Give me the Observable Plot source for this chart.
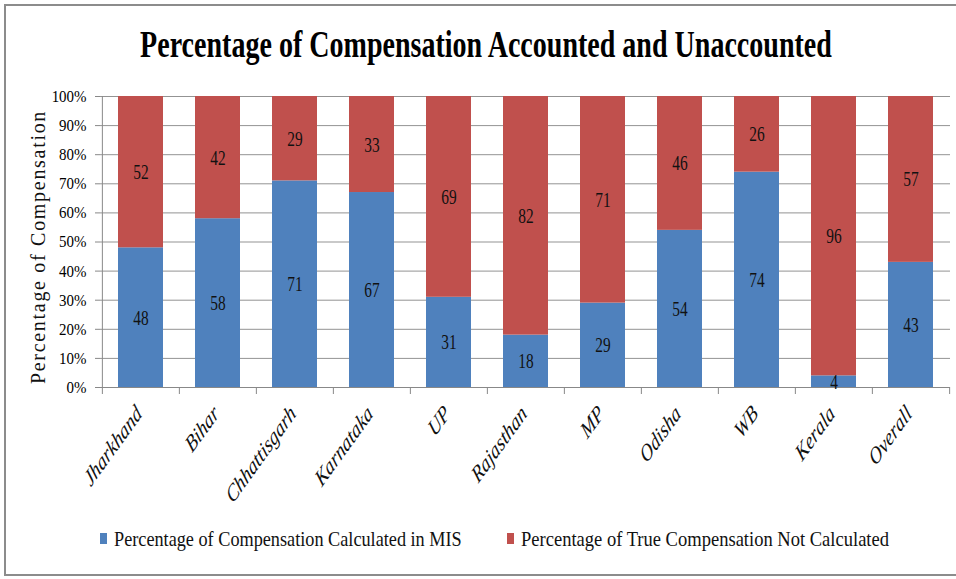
<!DOCTYPE html>
<html><head><meta charset="utf-8">
<script src="https://cdn.jsdelivr.net/npm/d3@7"></script>
<script src="https://cdn.jsdelivr.net/npm/@observablehq/plot@0.6"></script>
<style>
body{margin:0;background:#fff;font-family:"Liberation Serif",serif;}
#wrap{position:relative;width:956px;height:579px;overflow:hidden;background:#fff;}
#border{position:absolute;left:4px;top:4px;width:980px;height:572px;border:2px solid #8c8c8c;box-sizing:border-box;pointer-events:none;}
#title{position:relative;height:85px;}
#title span{position:absolute;left:486px;top:25px;white-space:nowrap;font:bold 38px/38px "Liberation Serif",serif;color:#000;transform-origin:center;}
#chart{height:430px;}
#legend{position:relative;height:64px;}
#legend .sw{position:absolute;width:7px;height:11px;top:18px;}
#legend .lt{position:absolute;top:14px;white-space:nowrap;font:21px/21px "Liberation Serif",serif;color:#111;transform-origin:left center;}
</style></head>
<body>
<div id="wrap">
  <div id="title"><span id="titleText"></span></div>
  <div id="chart"></div>
  <div id="legend"></div>
  <div id="border"></div>
</div>
<script>
const titleText = "Percentage of Compensation Accounted and Unaccounted";
const yAxisLabel = "Percentage of Compensation";
const states = ["Jharkhand","Bihar","Chhattisgarh","Karnataka","UP","Rajasthan","MP","Odisha","WB","Kerala","Overall"];
const calculatedInMIS = [48,58,71,67,31,18,29,54,74,4,43];
const notCalculated = [52,42,29,33,69,82,71,46,26,96,57];
const seriesNames = ["Percentage of Compensation Calculated in MIS","Percentage of True Compensation Not Calculated"];
const seriesColors = ["#4F81BD","#C0504D"];
const yTicks = [0,10,20,30,40,50,60,70,80,90,100];
const yTickLabels = ["0%","10%","20%","30%","40%","50%","60%","70%","80%","90%","100%"];

const rows = states.flatMap((s, i) => [
  {state: s, series: seriesNames[0], value: calculatedInMIS[i]},
  {state: s, series: seriesNames[1], value: notCalculated[i]}
]);

const W = 956, mL = 100, mR = 6;
const step = (W - mL - mR) / states.length;

const chart = Plot.plot({
  width: W, height: 430,
  marginTop: 11, marginBottom: 128, marginLeft: mL, marginRight: mR,
  style: {fontFamily: "Liberation Serif", background: "#fff", color: "#000"},
  x: {domain: states, paddingInner: 0.42, paddingOuter: 0.21, label: null},
  y: {domain: [0, 100], label: null},
  color: {domain: seriesNames, range: seriesColors},
  marks: [
    Plot.ruleY(yTicks, {stroke: "#939393", strokeWidth: 1}),
    Plot.barY(rows, {x: "state", y: "value", fill: "series"}),
    Plot.ruleY([0], {stroke: "#888"}),
    Plot.ruleX([states[0]], {dx: -step / 2, stroke: "#888"}),
    Plot.ruleX(states, {x: d => d, dx: -step / 2, y1: 0, y2: 0, insetTop: 7, stroke: "#888"}),
    Plot.ruleX([states[states.length - 1]], {dx: step / 2, y1: 0, y2: 0, insetTop: 7, stroke: "#888"}),
    Plot.axisY(yTicks, {tickSize: 5, tickPadding: 9, stroke: "#888", fill: "#000", fontSize: 17,
      tickFormat: d => yTickLabels[yTicks.indexOf(d)], label: null}),
    Plot.axisX({tickSize: 0, tickPadding: 22, tickRotate: -45, fontSize: 24, fill: "#111", label: null}),
    Plot.text(rows, Plot.stackY({x: "state", y: "value", text: d => String(d.value),
      fontSize: 22, fill: "#111"})),
    Plot.text([yAxisLabel], {frameAnchor: "left", textAnchor: "middle", rotate: -90, dx: -61.5, dy: 5,
      fontSize: 20, fill: "#111"})
  ]
});
document.getElementById("chart").appendChild(chart);

function squeeze(g, sx) {
  if (!g) return;
  g.querySelectorAll("text").forEach(t => {
    let tr = t.getAttribute("transform") || "";
    if (tr.includes("rotate(")) tr = tr.replace("rotate(", `scale(${sx},1) rotate(`);
    else tr += ` scale(${sx},1)`;
    t.setAttribute("transform", tr.trim());
  });
}
squeeze(chart.querySelector('g[aria-label="y-axis tick label"]'), 0.88);
const xg = chart.querySelector('g[aria-label="x-axis tick label"]');
if (xg) { xg.setAttribute("font-style", "italic"); xg.setAttribute("transform", (xg.getAttribute("transform")||"") + " translate(-2,0)"); }
squeeze(xg, 0.72);
const textGroups = chart.querySelectorAll('g[aria-label="text"]');
squeeze(textGroups[0], 0.7);
if (textGroups[1]) textGroups[1].setAttribute("letter-spacing", "1.7px");

// title
const tt = document.getElementById("titleText");
tt.textContent = titleText;
const tw = tt.offsetWidth;
tt.style.transform = `translateX(-50%) scaleX(${692 / tw})`;

// legend
const legend = document.getElementById("legend");
const legendPos = [{sw: 100, tx: 114, w: 348}, {sw: 507, tx: 521, w: 368}];
seriesNames.forEach((name, i) => {
  const sw = document.createElement("div");
  sw.className = "sw"; sw.style.left = legendPos[i].sw + "px"; sw.style.background = seriesColors[i];
  legend.appendChild(sw);
  const lt = document.createElement("div");
  lt.className = "lt"; lt.style.left = legendPos[i].tx + "px"; lt.textContent = name;
  legend.appendChild(lt);
  lt.style.transform = `scaleX(${legendPos[i].w / lt.offsetWidth})`;
});
</script>
</body></html>
